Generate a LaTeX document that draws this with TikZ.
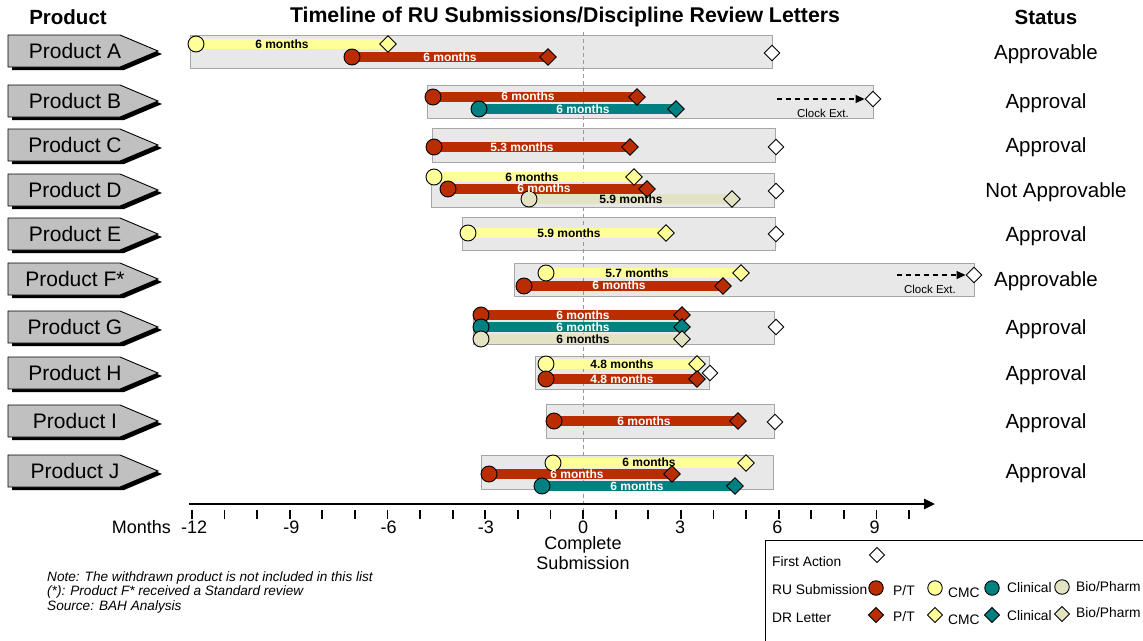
\documentclass[tikz,border=0pt]{standalone}
\usepackage{fontspec}
\setmainfont{Liberation Sans}
\usetikzlibrary{shapes.geometric,arrows.meta}

\pgfdeclarelayer{back}
\pgfdeclarelayer{bars}
\pgfsetlayers{back,bars,main}

\definecolor{ptred}{HTML}{B92D00}
\definecolor{cmcyel}{HTML}{FFFF99}
\definecolor{clinteal}{HTML}{008080}
\definecolor{biotan}{HTML}{E3E3C3}
\definecolor{panelgray}{HTML}{E8E8E8}
\definecolor{paneledge}{HTML}{A6A6A6}
\definecolor{arrowgray}{HTML}{C0C0C0}
\definecolor{zeroline}{HTML}{999999}

\tikzset{
  sub/.style={circle, draw=black, line width=0.9pt, minimum size=16pt, inner sep=0pt},
  drl/.style={diamond, draw=black, line width=0.9pt, minimum size=17pt, inner sep=0pt},
  fa/.style={drl, fill=white, minimum size=16pt},
  bar/.style={line width=10pt},
  panel/.style={fill=panelgray, draw=paneledge, line width=1pt},
  lbl/.style={font=\bfseries\fontsize{12}{12}\selectfont, inner sep=0pt},
  wlbl/.style={lbl, text=white},
  prodtxt/.style={font=\fontsize{21}{21}\selectfont, inner sep=0pt},
  status/.style={font=\fontsize{20.5}{21}\selectfont, inner sep=0pt},
  head/.style={font=\bfseries\fontsize{20.5}{21}\selectfont, inner sep=0pt},
  axlbl/.style={font=\fontsize{18}{19.5}\selectfont, inner sep=0pt},
  clock/.style={font=\fontsize{11.5}{12}\selectfont, inner sep=0pt},
  note/.style={font=\itshape\fontsize{13.6}{14.5}\selectfont, inner sep=0pt},
  legtxt/.style={font=\fontsize{13.8}{14}\selectfont, inner sep=0pt},
  ext/.style={dash pattern=on 5pt off 4pt, line width=1.1pt, -{Triangle[length=9pt,width=8pt]}},
}

% one discipline track: RU submission circle, DR letter diamond, bar between them
\newcommand\track[5]{% name, colour, y, x of submission, x of letter
  \node[sub, fill=#2] (#1-ru) at (#4,#3) {};
  \node[drl, fill=#2] (#1-dr) at (#5,#3) {};
  \begin{pgfonlayer}{bars}
    \draw[bar, #2] (#1-ru.center) -- (#1-dr.center);
  \end{pgfonlayer}
}

% product tag: grey pointed box with a black drop shadow
\newcommand\prodtag[3]{% name, y, text
  \fill[black, shift={(4,3)}] (8,{#2-16}) -- (120,{#2-16}) -- (158,{#2}) -- (120,{#2+16}) -- (8,{#2+16}) -- cycle;
  \draw[fill=arrowgray, line width=0.9pt] (8,{#2-16}) -- (120,{#2-16}) -- (158,{#2}) -- (120,{#2+16}) -- (8,{#2+16}) -- cycle;
  \node[prodtxt] (#1) at (75,#2) {#3};
}

\begin{document}
\begin{tikzpicture}[x=1pt, y=-1pt]
\useasboundingbox (0,0) rectangle (1143,640);

% headers
\node[head] (hProd) at (68,17) {Product};
\node[head, font=\bfseries\fontsize{21.3}{22}\selectfont] (hTime) at (565,17) {Timeline of RU Submissions/Discipline Review Letters};
\node[head] (hStat) at (1046,17) {Status};

% review windows
\begin{pgfonlayer}{back}
  \draw[panel] (190,35) rectangle (772,68);
  \draw[panel] (427,85) rectangle (873,118);
  \draw[panel] (432,128) rectangle (775,162);
  \draw[panel] (431,173) rectangle (774,207);
  \draw[panel] (462,217) rectangle (775,250);
  \draw[panel] (514,263) rectangle (974,296);
  \draw[panel] (473,311) rectangle (774,344);
  \draw[panel] (535,356) rectangle (709,389);
  \draw[panel] (546,404) rectangle (774,438);
  \draw[panel] (481,455) rectangle (773,489);
  % complete submission reference line
  \coordinate (z0) at (583,32);
  \coordinate (z1) at (583,521);
  \draw[zeroline, dash pattern=on 4pt off 3pt, line width=1pt] (z0) -- (z1);
\end{pgfonlayer}

% product tags
\prodtag{pA}{51}{Product A}
\prodtag{pB}{101}{Product B}
\prodtag{pC}{145}{Product C}
\prodtag{pD}{190}{Product D}
\prodtag{pE}{234}{Product E}
\prodtag{pF}{279}{Product F*}
\prodtag{pG}{327}{Product G}
\prodtag{pH}{373}{Product H}
\prodtag{pI}{421}{Product I}
\prodtag{pJ}{471}{Product J}

% Product A
\track{Acmc}{cmcyel}{44}{196}{388}
\track{Apt}{ptred}{57}{352}{548}
\node[fa] (Afa) at (772,53) {};
% Product B
\track{Bpt}{ptred}{97}{433}{637}
\track{Bcl}{clinteal}{109}{479}{676}
\node[fa] (Bfa) at (873,99) {};
\coordinate (Bck) at (777,99);
\draw[ext] (Bck) -- (Bfa.west);
\node[clock] (Bckl) at (823,113) {Clock Ext.};
% Product C
\track{Cpt}{ptred}{147}{434}{630}
\node[fa] (Cfa) at (776,147) {};
% Product D
\track{Dcmc}{cmcyel}{177}{434}{634}
\track{Dpt}{ptred}{189}{448}{647}
\track{Dbio}{biotan}{199}{529}{732}
\node[fa] (Dfa) at (776,191) {};
% Product E
\track{Ecmc}{cmcyel}{233}{468}{666}
\node[fa] (Efa) at (776,234) {};
% Product F*
\track{Fcmc}{cmcyel}{273}{546}{741}
\track{Fpt}{ptred}{286}{524}{723}
\node[fa] (Ffa) at (974,275) {};
\coordinate (Fck) at (897,275);
\draw[ext] (Fck) -- (Ffa.west);
\node[clock] (Fckl) at (930,289) {Clock Ext.};
% Product G
\track{Gpt}{ptred}{315}{481}{682}
\track{Gcl}{clinteal}{327}{481}{682}
\track{Gbio}{biotan}{339}{481}{682}
\node[fa] (Gfa) at (776,327) {};
% Product H
\track{Hcmc}{cmcyel}{364}{546}{697}
\track{Hpt}{ptred}{379}{546}{697}
\node[fa] (Hfa) at (710,373) {};
% Product I
\track{Ipt}{ptred}{421}{554}{738}
\node[fa] (Ifa) at (775,422) {};
% Product J
\track{Jcmc}{cmcyel}{463}{553}{746}
\track{Jpt}{ptred}{474}{489}{672}
\track{Jcl}{clinteal}{486}{542}{735}

% duration labels
\node[lbl]  (Acmcl) at (282,44) {6 months};
\node[wlbl] (Aptl)  at (450,57) {6 months};
\node[wlbl] (Bptl)  at (528,96) {6 months};
\node[wlbl] (Bcll)  at (583,109) {6 months};
\node[wlbl] (Cptl)  at (522,147) {5.3 months};
\node[lbl]  (Dcmcl) at (532,177) {6 months};
\node[wlbl] (Dptl)  at (544,188) {6 months};
\node[lbl]  (Dbiol) at (631,199) {5.9 months};
\node[lbl]  (Ecmcl) at (569,233) {5.9 months};
\node[lbl]  (Fcmcl) at (637,273) {5.7 months};
\node[wlbl] (Fptl)  at (619,285) {6 months};
\node[wlbl] (Gptl)  at (583,315) {6 months};
\node[wlbl] (Gcll)  at (583,327) {6 months};
\node[lbl]  (Gbiol) at (583,339) {6 months};
\node[lbl]  (Hcmcl) at (622,364) {4.8 months};
\node[wlbl] (Hptl)  at (622,379) {4.8 months};
\node[wlbl] (Iptl)  at (644,421) {6 months};
\node[lbl]  (Jcmcl) at (649,462) {6 months};
\node[wlbl] (Jptl)  at (577,474) {6 months};
\node[wlbl] (Jcll)  at (637,486) {6 months};

% status column
\node[status] (sA) at (1046,54) {Approvable};
\node[status] (sB) at (1046,103) {Approval};
\node[status] (sC) at (1046,147) {Approval};
\node[status] (sD) at (1056,192) {Not Approvable};
\node[status] (sE) at (1046,236) {Approval};
\node[status] (sF) at (1046,281) {Approvable};
\node[status] (sG) at (1046,329) {Approval};
\node[status] (sH) at (1046,375) {Approval};
\node[status] (sI) at (1046,423) {Approval};
\node[status] (sJ) at (1046,473) {Approval};

% month axis
\coordinate (ax0) at (189,504);
\coordinate (ax1) at (935,504);
\draw[line width=2.6pt, -{Triangle[length=11pt,width=10pt]}] (ax0) -- (ax1);
\foreach \m in {-12,...,10}
  \draw[line width=1.8pt] ({583+32.6*\m},510) -- ({583+32.6*\m},519);
\foreach \m in {-12,-9,...,9}
  \node[axlbl] at ({583+32.4*\m},527) {\m};
\node[axlbl, anchor=east] (mLbl) at (171,527) {Months};
\node[axlbl, align=center] (cSub) at (583,553) {Complete\\Submission};

% notes
\node[note, anchor=north west, align=left] (notes) at (47,571)
  {Note: The withdrawn product is not included in this list\\
   (*): Product F* received a Standard review\\
   Source: BAH Analysis};

% legend
\draw[line width=1pt, fill=white] (765,540) rectangle (1160,660);
\node[legtxt, anchor=west] (lgFA) at (772,562) {First Action};
\node[fa, minimum size=15.5pt] (lgFAd) at (877,555) {};
\node[legtxt, anchor=west] (lgRU) at (772,590) {RU Submission};
\node[sub, fill=ptred, minimum size=14.5pt] (lgRUpt) at (876,588) {};
\node[sub, fill=cmcyel, minimum size=14.5pt] (lgRUcmc) at (935,588) {};
\node[sub, fill=clinteal, minimum size=14.5pt] (lgRUcl) at (992,588) {};
\node[sub, fill=biotan, minimum size=14.5pt] (lgRUbio) at (1062,587) {};
\node[legtxt, anchor=west] at (893,591) {P/T};
\node[legtxt, anchor=west] at (948,593) {CMC};
\node[legtxt, anchor=west] at (1007,588) {Clinical};
\node[legtxt, anchor=west] at (1076,587) {Bio/Pharm};
\node[legtxt, anchor=west] (lgDR) at (772,618) {DR Letter};
\node[drl, fill=ptred, minimum size=15.5pt] (lgDRpt) at (876,615) {};
\node[drl, fill=cmcyel, minimum size=15.5pt] (lgDRcmc) at (935,615) {};
\node[drl, fill=clinteal, minimum size=15.5pt] (lgDRcl) at (992,615) {};
\node[drl, fill=biotan, minimum size=15.5pt] (lgDRbio) at (1062,614) {};
\node[legtxt, anchor=west] at (893,617) {P/T};
\node[legtxt, anchor=west] at (948,620) {CMC};
\node[legtxt, anchor=west] at (1007,616) {Clinical};
\node[legtxt, anchor=west] at (1076,613) {Bio/Pharm};
\end{tikzpicture}
\end{document}
